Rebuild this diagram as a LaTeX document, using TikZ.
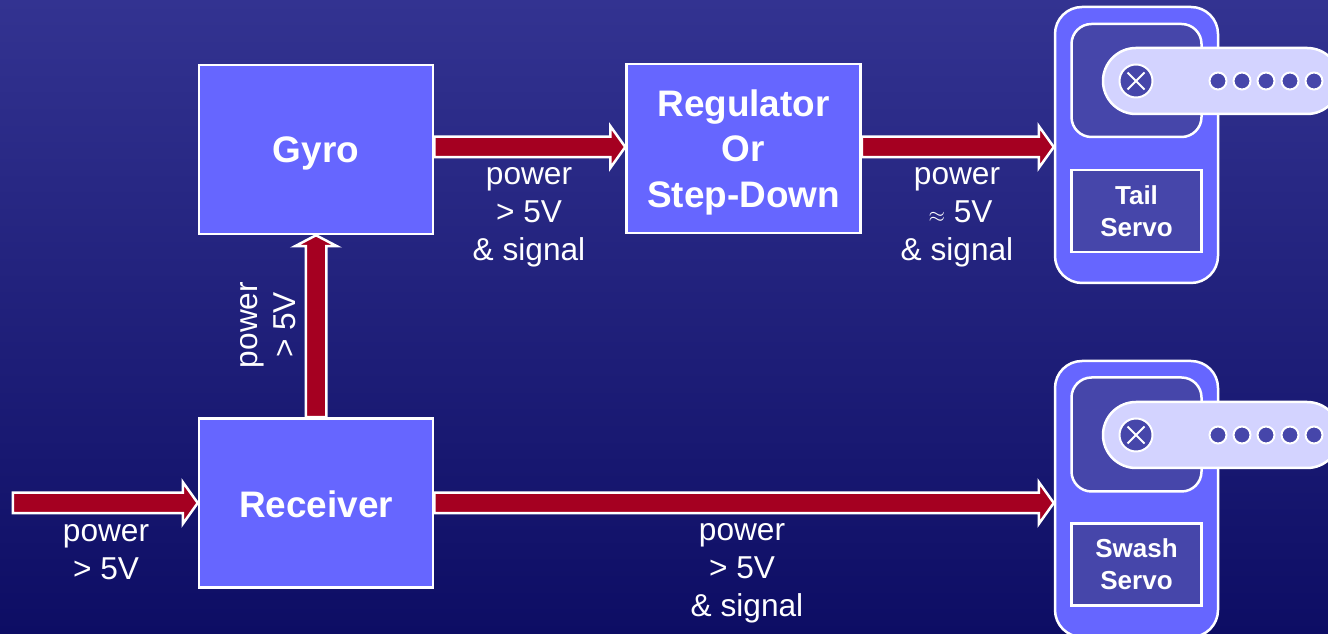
\documentclass[tikz,border=0pt]{standalone}
\usepackage{fontspec}
\setmainfont{Liberation Sans}
\definecolor{bgtop}{RGB}{51,51,145}
\definecolor{bgbottom}{RGB}{13,13,100}
\definecolor{blockblue}{RGB}{102,102,255}
\definecolor{servodark}{RGB}{70,70,170}
\definecolor{hornlight}{RGB}{211,211,255}
\definecolor{pipered}{RGB}{165,0,33}
\usetikzlibrary{calc,shapes.misc}

\begin{document}
\begin{tikzpicture}[
  block/.style={draw=white, fill=blockblue, line width=0.05cm, minimum width=4.68cm, minimum height=3.38cm, align=center, text=white, text depth=0pt, font=\fontsize{21}{26}\selectfont\bfseries},
  servobody/.style={draw=white, fill=blockblue, line width=0.05cm, rounded corners=0.54cm, minimum width=3.26cm, minimum height=5.52cm},
  servoface/.style={draw=white, fill=servodark, line width=0.05cm, rounded corners=0.4cm, minimum width=2.6cm, minimum height=2.28cm},
  servotag/.style={draw=white, fill=servodark, line width=0.05cm, minimum width=2.6cm, minimum height=1.64cm, align=center, text=white, font=\fontsize{14.8}{18}\selectfont\bfseries},
  horn/.style={draw=white, fill=hornlight, line width=0.05cm, rounded corners=0.66cm, minimum width=4.74cm, minimum height=1.32cm},
  hub/.style={circle, draw=white, fill=servodark, line width=0.04cm, minimum size=0.66cm, inner sep=0pt},
  hubcross/.style={cross out, draw=white, line width=0.04cm, minimum size=0.34cm, inner sep=0pt, outer sep=0pt},
  hole/.style={circle, draw=white, fill=servodark, line width=0.04cm, minimum size=0.34cm, inner sep=0pt},
  wirelabel/.style={align=center, text=white, font=\fontsize{18}{21.6}\selectfont},
  pipe/.default=0.3cm,
  pipe/.style={draw=white, fill=pipered, line width=0.05cm, miter limit=10, to path={
    ($(\tikztostart)!0.205cm!90:(\tikztotarget)$)
    -- ($($(\tikztotarget)!#1!(\tikztostart)$)!0.205cm!90:(\tikztotarget)$)
    -- ($($(\tikztotarget)!#1!(\tikztostart)$)!0.42cm!90:(\tikztotarget)$)
    -- (\tikztotarget)
    -- ($($(\tikztotarget)!#1!(\tikztostart)$)!0.42cm!-90:(\tikztotarget)$)
    -- ($($(\tikztotarget)!#1!(\tikztostart)$)!0.205cm!-90:(\tikztotarget)$)
    -- ($(\tikztostart)!0.205cm!-90:(\tikztotarget)$) -- cycle}}
]
  \clip (0,0) rectangle (26.56,12.68);
  \shade[top color=bgtop, bottom color=bgbottom] (0,0) rectangle (26.56,12.68);

  \node[block] (gyro) at (6.32,9.69) {Gyro};
  \node[block] (reg) at (14.87,9.71) {Regulator\\Or\\Step-Down};
  \node[block, text height=17pt] (recv) at (6.32,2.62) {Receiver};

  % tail servo
  \node[servobody] (tail) at (22.73,9.78) {};
  \node[servoface, minimum height=2.26cm] (tailface) at (22.73,11.07) {};
  \node[servotag] (tailtag) at (22.73,8.46) {Tail\\Servo};
  \node[horn] (tailhorn) at (24.43,11.06) {};
  \node[hub] (tailhub) at (22.72,11.06) {};
  \node[hubcross] (tailcross) at (22.72,11.06) {};
  \node[hole] (tailhole1) at (24.36,11.06) {};
  \node[hole] (tailhole2) at (24.84,11.06) {};
  \node[hole] (tailhole3) at (25.32,11.06) {};
  \node[hole] (tailhole4) at (25.80,11.06) {};
  \node[hole] (tailhole5) at (26.28,11.06) {};

  % swash servo
  \node[servobody] (swash) at (22.73,2.70) {};
  \node[servoface] (swashface) at (22.73,3.99) {};
  \node[servotag] (swashtag) at (22.73,1.39) {Swash\\Servo};
  \node[horn] (swashhorn) at (24.43,3.98) {};
  \node[hub] (swashhub) at (22.72,3.98) {};
  \node[hubcross] (swashcross) at (22.72,3.98) {};
  \node[hole] (swashhole1) at (24.36,3.98) {};
  \node[hole] (swashhole2) at (24.84,3.98) {};
  \node[hole] (swashhole3) at (25.32,3.98) {};
  \node[hole] (swashhole4) at (25.80,3.98) {};
  \node[hole] (swashhole5) at (26.28,3.98) {};

  \coordinate (topline) at (0,9.74);
  \coordinate (supply) at (0.26,2.62);

  \draw[pipe] (supply) to (recv.west);
  \draw[pipe=0.22cm] (recv.north) to (gyro.south);
  \draw[pipe] (gyro.east |- topline) to (reg.west |- topline);
  \draw[pipe] (reg.east |- topline) to (tail.west |- topline);
  \draw[pipe] (recv.east) to (swash.west |- recv.east);

  \node[wirelabel] (lblsupply) at (2.12,1.64) {power\\> 5V};
  \node[wirelabel, rotate=90] (lblup) at (5.36,6.18) {power\\> 5V};
  \node[wirelabel] (lblgyro) at (10.58,8.34) {power\\> 5V\\\& signal};
  \node[wirelabel] (lblreg) at (19.14,8.34) {power\\\kern 4pt{\fontsize{12}{12}\selectfont$\approx$} 5V\\\& signal};
  \node[wirelabel] (lblrecv) at (14.94,1.22) {power\kern 5.7pt\\> 5V\kern 5.7pt\\\& signal};
\end{tikzpicture}
\end{document}
